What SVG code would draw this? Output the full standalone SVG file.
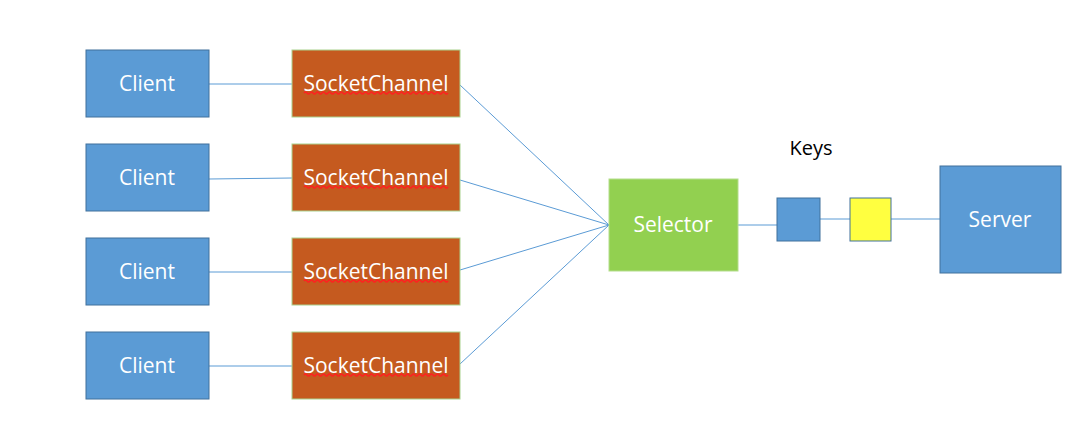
<svg xmlns="http://www.w3.org/2000/svg" width="1082" height="432" viewBox="0 0 1082 432">
<style>
.client{fill:#5b9bd5;stroke:#41719c;stroke-width:1}
.sc{fill:#c55a1f;stroke:#a9d18e;stroke-width:1}
.sel{fill:#92d050;stroke:#b4dd8c;stroke-width:1}
.key{stroke:#41719c;stroke-width:1}
.t{font-family:"Open Sans","Liberation Sans",sans-serif;font-size:21px;fill:#ffffff;text-anchor:middle;dominant-baseline:central}
.k{font-family:"Open Sans","Liberation Sans",sans-serif;font-size:20px;fill:#000000;text-anchor:middle;dominant-baseline:central}
.c line{stroke:#5b9bd5;stroke-width:1}
.sq{fill:none;stroke:#ff2020;stroke-width:1.3}
</style>
<defs>
<path id="wave" d="M0 0 q1.5 -2 3 0 t3 0 t3 0 t3 0 t3 0 t3 0 t3 0 t3 0 t3 0 t3 0 t3 0 t3 0 t3 0 t3 0 t3 0 t3 0 t3 0 t3 0 t3 0 t3 0 t3 0 t3 0 t3 0 t3 0 t3 0 t3 0 t3 0 t3 0 t3 0 t3 0 t3 0 t3 0 t3 0 t3 0 t3 0 t3 0 t3 0 t3 0 t3 0 t3 0 t3 0 t3 0 t3 0 t3 0 t3 0 t3 0 t3 0 t3 0"/>
</defs>
<rect width="1082" height="432" fill="#ffffff"/>
<g class="c" id="connectors">
<line x1="209" y1="84" x2="292" y2="84"/>
<line x1="209" y1="179" x2="292" y2="178"/>
<line x1="209" y1="272" x2="292" y2="272"/>
<line x1="209" y1="366" x2="292" y2="366"/>
<line x1="460" y1="85" x2="609" y2="225"/>
<line x1="460" y1="180" x2="609" y2="225"/>
<line x1="460" y1="270" x2="609" y2="225"/>
<line x1="460" y1="364" x2="609" y2="225"/>
<line x1="738" y1="225" x2="777" y2="225"/>
<line x1="820" y1="219" x2="850" y2="219"/>
<line x1="891" y1="219" x2="940" y2="219"/>
</g>
<g id="client1"><rect class="client" x="86" y="50" width="123" height="67"/><text class="t" x="147" y="83">Client</text></g>
<g id="client2"><rect class="client" x="86" y="144" width="123" height="67"/><text class="t" x="147" y="177">Client</text></g>
<g id="client3"><rect class="client" x="86" y="238" width="123" height="67"/><text class="t" x="147" y="271">Client</text></g>
<g id="client4"><rect class="client" x="86" y="332" width="123" height="67"/><text class="t" x="147" y="365">Client</text></g>
<g id="sc1"><rect class="sc" x="292" y="50" width="168" height="67"/><text class="t" x="376" y="83">SocketChannel</text><use href="#wave" class="sq" x="304" y="93"/></g>
<g id="sc2"><rect class="sc" x="292" y="144" width="168" height="67"/><text class="t" x="376" y="177">SocketChannel</text><use href="#wave" class="sq" x="304" y="187"/></g>
<g id="sc3"><rect class="sc" x="292" y="238" width="168" height="67"/><text class="t" x="376" y="271">SocketChannel</text><use href="#wave" class="sq" x="304" y="281"/></g>
<g id="sc4"><rect class="sc" x="292" y="332" width="168" height="67"/><text class="t" x="376" y="365">SocketChannel</text><use href="#wave" class="sq" x="304" y="375"/></g>
<g id="selector"><rect class="sel" x="609" y="179" width="129" height="92"/><text class="t" x="673" y="224">Selector</text></g>
<g id="key1"><rect class="key" x="777" y="198" width="43" height="43" fill="#5b9bd5"/></g>
<g id="key2"><rect class="key" x="850" y="198" width="41" height="43" fill="#ffff40"/></g>
<g id="keys-label"><text class="k" x="811" y="147">Keys</text></g>
<g id="server"><rect class="client" x="940" y="166" width="121" height="107"/><text class="t" x="1000" y="219">Server</text></g>
</svg>
